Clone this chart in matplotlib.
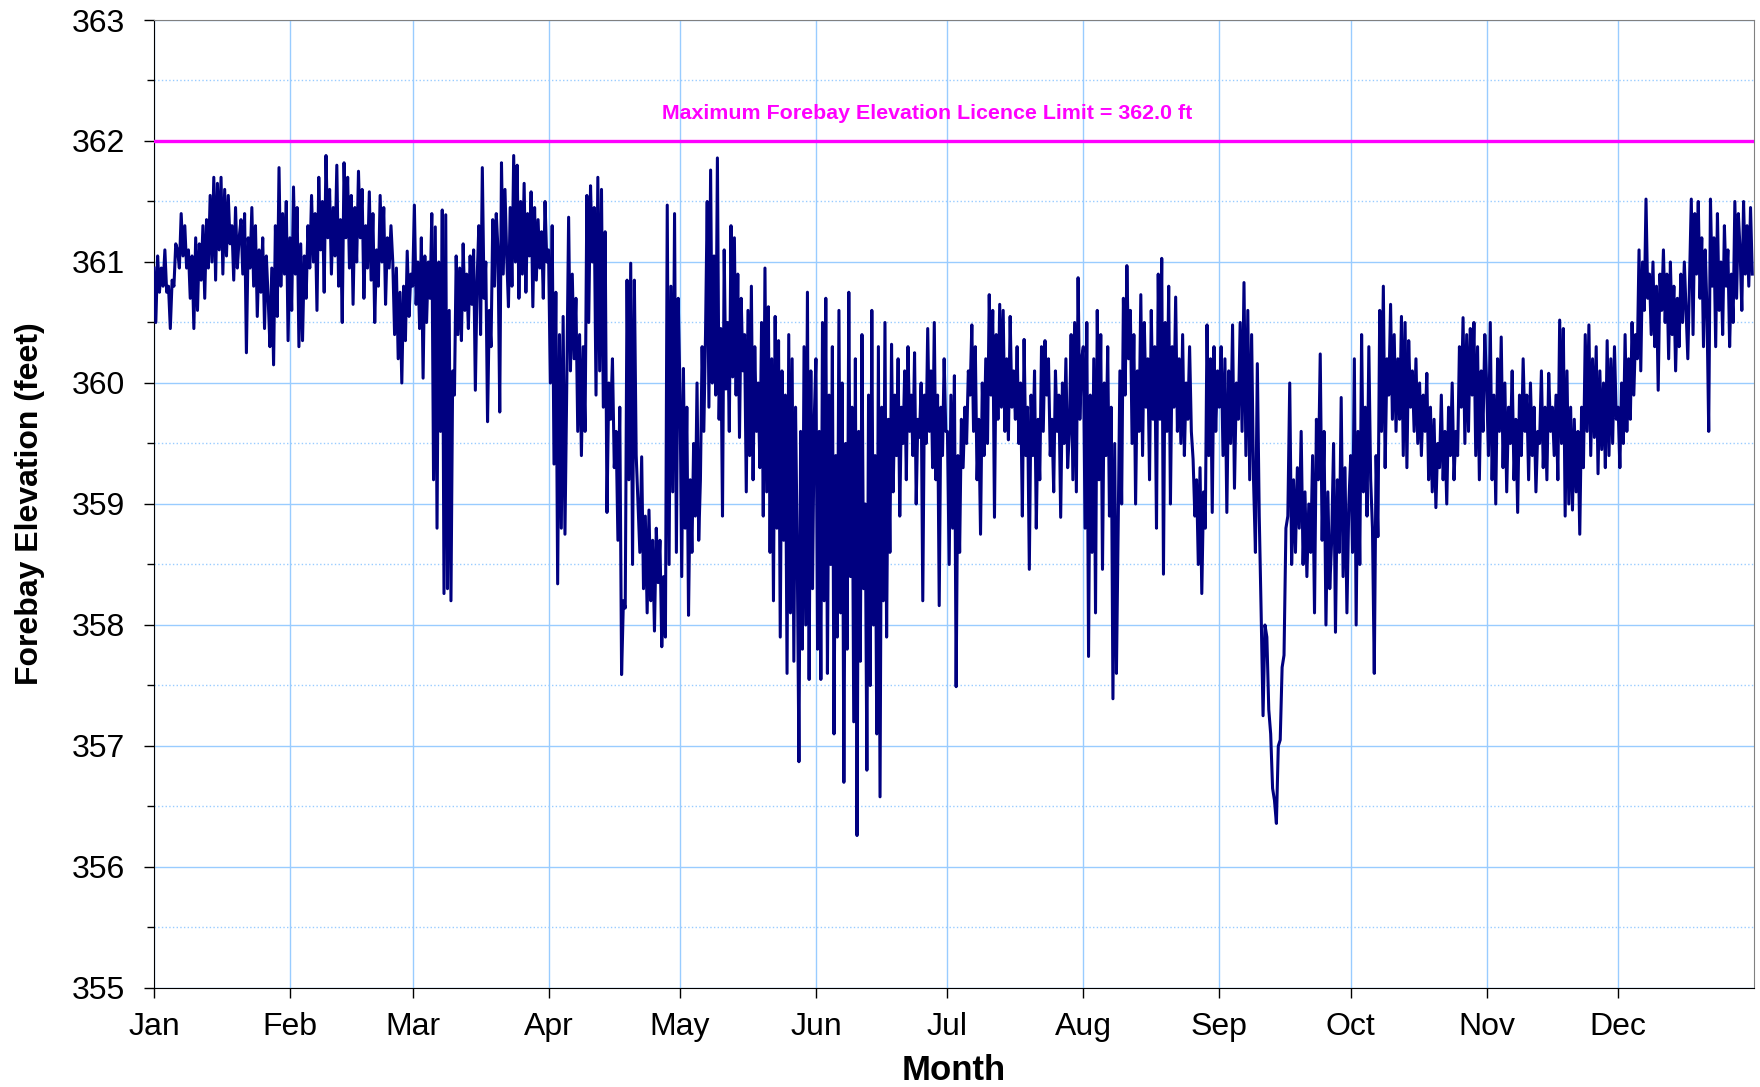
import numpy as np
import matplotlib
matplotlib.use("Agg")
import matplotlib.pyplot as plt

# Forebay elevation (feet)
months = ['Jan', 'Feb', 'Mar', 'Apr', 'May', 'Jun', 'Jul', 'Aug', 'Sep', 'Oct', 'Nov', 'Dec']
month_days = [31, 28, 31, 30, 31, 30, 31, 31, 30, 31, 30, 31]

jan = [360.95, 360.50, 361.05, 360.75, 360.95, 360.80, 361.10, 360.75, 360.80, 360.45, 360.85, 360.80,
       361.15, 361.10, 360.95, 361.40, 361.05, 361.30, 360.95, 361.10, 360.70, 361.05, 360.45, 361.20,
       360.60, 361.15, 360.85, 361.30, 360.70, 361.35, 360.95, 361.55, 361.00, 361.70, 360.85, 361.65,
       361.10, 361.70, 360.90, 361.60, 361.05, 361.55, 361.15, 361.30, 360.85, 361.45, 360.95, 361.20,
       361.35, 360.90, 361.40, 360.25, 361.20, 360.95, 361.45, 360.80, 361.30, 360.55, 361.10, 360.75,
       361.20, 360.45, 361.05, 360.70, 360.30, 360.95, 360.15, 361.30, 360.55, 361.78, 360.80, 361.40,
       360.90, 361.50, 360.35]
feb = [361.20, 360.60, 361.62, 360.90, 361.45, 360.30, 361.15, 360.35, 361.05, 360.70, 361.30, 360.95,
       361.55, 361.00, 361.40, 360.60, 361.70, 361.10, 361.50, 360.75, 361.88, 361.20, 361.60, 360.90,
       361.45, 361.05, 361.80, 360.80, 361.35, 360.50, 361.82, 361.20, 361.70, 360.95, 361.55, 360.65,
       361.45, 361.00, 361.75, 361.20, 361.60, 360.70, 361.30, 360.95, 361.58, 360.85, 361.40, 360.50,
       361.10, 360.80, 361.55, 361.00, 361.45, 360.65, 361.20, 360.95, 361.30, 361.00, 360.40, 360.95,
       360.20, 360.75, 360.00, 360.80, 360.35, 361.09, 360.55, 360.90]
mar = [360.80, 361.47, 360.65, 361.00, 360.45, 361.20, 360.04, 361.05, 360.50, 361.00, 360.70, 361.40,
       359.20, 361.29, 358.80, 361.00, 359.60, 361.43, 358.26, 361.39, 358.30, 360.60, 358.20, 360.10,
       359.90, 361.05, 360.40, 360.95, 360.35, 361.15, 360.60, 360.90, 360.45, 361.05, 360.65, 361.10,
       359.94, 360.85, 361.30, 360.40, 361.78, 360.70, 361.00, 359.68, 360.60, 360.30, 361.35, 360.80,
       361.40, 361.10, 359.76, 361.82, 360.90, 361.60, 361.05, 360.63, 361.45, 360.80, 361.88, 361.00,
       361.80, 360.70, 361.50, 360.90, 361.65, 360.75, 361.40, 361.05, 361.58, 360.63, 361.45, 360.85,
       361.35, 360.95, 361.25, 360.70, 361.50, 361.00]
apr = [361.10, 360.00, 361.30, 359.33, 360.75, 358.34, 360.40, 358.80, 360.55, 358.75, 360.00, 361.37,
       360.10, 360.90, 360.20, 360.70, 359.60, 360.40, 359.40, 360.30, 359.60, 361.55, 360.50, 361.63,
       361.00, 361.45, 359.90, 361.70, 360.10, 361.60, 359.80, 361.25, 358.93, 360.00, 359.70, 360.20,
       359.30, 359.60, 358.70, 359.80, 357.59, 358.20, 358.14, 360.85, 359.20, 360.99, 358.50, 360.85,
       359.40, 359.00, 358.60, 359.39, 358.30, 358.90, 358.10, 358.95, 358.20, 358.70, 357.95, 358.80,
       358.35, 358.70, 357.82, 358.40, 357.90, 361.47, 358.50, 360.80, 359.10, 361.40, 358.60, 360.70]
may = [359.90, 358.40, 360.12, 358.80, 359.80, 358.08, 359.20, 358.60, 359.50, 358.90, 360.00, 358.70,
       359.20, 360.30, 359.60, 360.40, 361.50, 359.80, 361.76, 360.00, 361.05, 359.90, 361.86, 359.70,
       360.45, 358.90, 361.10, 359.95, 360.50, 359.60, 361.30, 360.05, 361.20, 359.90, 360.90, 359.55,
       360.70, 360.10, 360.40, 359.10, 360.60, 359.40, 360.80, 359.20, 360.30, 359.60, 360.00, 359.30,
       360.50, 358.90, 360.95, 359.10, 360.63, 358.60, 360.20, 358.20, 360.55, 358.80, 360.35, 357.90,
       360.10, 358.70, 359.90, 357.60, 360.40, 358.10, 360.20, 357.70, 359.80, 358.60, 356.87, 359.60,
       357.80, 360.30, 358.00, 360.75, 357.55, 360.10, 358.30, 359.70]
jun = [360.20, 357.80, 359.60, 357.55, 360.50, 358.20, 360.70, 357.60, 359.90, 358.50, 360.30, 357.10,
       359.40, 357.90, 360.60, 358.10, 360.00, 356.70, 359.50, 357.80, 360.75, 358.40, 359.80, 357.20,
       360.20, 356.26, 359.60, 357.70, 360.40, 358.30, 359.00, 356.80, 359.90, 357.50, 360.60, 358.00,
       359.40, 357.10, 360.30, 356.58, 359.80, 358.20, 360.50, 357.90, 359.70, 358.60, 360.32, 359.10,
       359.90, 359.40, 360.20, 358.90, 359.80, 359.50, 360.10, 359.20, 360.30, 359.60, 359.90, 359.40,
       360.25, 359.00, 359.70, 359.55, 360.00, 358.20, 359.90, 359.50, 360.45, 359.60, 360.10, 359.30,
       360.50, 359.20, 359.90, 358.16, 359.80, 359.40, 360.20, 359.60]
jul = [359.60, 358.50, 359.90, 358.80, 360.06, 357.49, 359.40, 358.60, 359.70, 359.30, 359.80, 359.50,
       360.10, 359.90, 360.48, 359.60, 360.30, 359.20, 359.70, 358.75, 360.00, 359.40, 360.20, 359.50,
       360.73, 359.90, 360.60, 358.89, 360.40, 359.70, 360.65, 359.80, 360.60, 359.60, 360.20, 359.53,
       360.55, 359.80, 360.10, 359.70, 360.30, 359.50, 360.00, 358.90, 360.36, 359.40, 359.80, 358.46,
       359.90, 359.40, 360.10, 358.80, 359.70, 359.20, 360.30, 359.60, 360.35, 359.90, 360.20, 359.40,
       359.70, 359.10, 360.10, 359.60, 359.90, 358.89, 360.00, 359.50, 360.20, 359.30, 359.60, 360.40,
       359.20, 360.50, 359.10, 360.87, 359.70, 360.20]
aug = [360.30, 358.80, 360.50, 357.74, 359.90, 358.60, 360.20, 358.10, 360.60, 359.20, 360.40, 358.46,
       360.00, 359.40, 360.30, 358.90, 359.80, 357.39, 359.50, 357.60, 358.80, 360.10, 359.00, 360.70,
       359.90, 360.97, 360.20, 360.60, 359.50, 360.40, 359.00, 360.10, 359.60, 360.73, 359.40, 360.50,
       359.80, 360.20, 359.20, 360.60, 359.70, 360.30, 358.80, 360.90, 359.70, 361.03, 358.42, 360.50,
       359.60, 360.80, 359.00, 360.30, 359.80, 360.71, 359.60, 360.20, 359.50, 360.40, 359.40, 360.00,
       359.70, 360.30, 359.60, 359.37, 358.90, 359.20, 358.50, 359.30, 358.26, 359.10, 358.80, 360.48,
       359.40, 360.20, 358.93, 360.30, 359.60, 360.10]
sep = [359.80, 360.30, 359.40, 360.20, 358.93, 360.10, 359.50, 360.48, 359.13, 360.00, 359.70, 360.50,
       359.60, 360.83, 359.40, 360.60, 359.20, 360.40, 359.20, 358.60, 360.16, 358.90, 358.10, 357.25,
       358.00, 357.90, 357.30, 357.10, 356.65, 356.55, 356.36, 357.00, 357.05, 357.65, 357.75, 358.80,
       358.90, 360.00, 358.50, 359.20, 358.60, 359.30, 358.80, 359.60, 358.50, 359.10, 358.40, 359.00,
       358.60, 359.40, 358.10, 359.70, 359.20, 360.24, 358.70, 359.60, 358.00, 359.10, 358.30, 358.70,
       359.50, 357.94, 359.20, 358.60, 359.88, 358.40, 359.30, 358.10, 359.00]
oct_ = [359.40, 358.60, 360.20, 358.00, 359.60, 358.50, 360.40, 359.10, 359.80, 358.90, 360.30, 359.20,
        358.80, 357.60, 359.40, 358.73, 360.60, 359.60, 360.80, 359.30, 360.20, 359.90, 360.65, 359.70,
        360.40, 359.60, 360.20, 359.70, 360.55, 359.40, 360.50, 359.30, 360.35, 359.80, 360.10, 359.60,
        360.20, 359.50, 360.00, 359.40, 359.90, 359.60, 360.08, 359.20, 359.80, 359.10, 359.70, 358.97,
        359.50, 359.30, 359.90, 359.20, 359.60, 359.00, 359.80, 359.40, 360.00, 359.20, 359.60, 359.40,
        360.30, 359.80, 360.54, 359.50, 360.40, 359.60, 360.45, 359.90, 360.50, 359.40, 360.30, 359.20,
        360.10, 359.60, 360.40]
nov = [360.00, 359.40, 360.50, 359.20, 359.90, 359.00, 360.20, 359.60, 360.38, 359.30, 360.00, 359.10,
       359.80, 359.50, 360.10, 359.20, 359.70, 358.93, 359.90, 359.40, 360.20, 359.60, 359.90, 359.20,
       360.00, 359.40, 359.80, 359.10, 359.60, 359.50, 360.10, 359.30, 359.80, 359.20, 360.08, 359.60,
       359.80, 359.40, 359.90, 359.20, 360.52, 359.50, 360.45, 358.90, 360.10, 359.00, 359.80, 358.95,
       359.70, 359.10, 359.60, 358.75, 359.80, 359.30, 360.40, 359.60, 360.48, 359.40, 360.20, 359.55,
       360.30, 359.25, 360.10, 359.45, 360.00, 359.30, 360.35, 359.40, 360.20, 359.50, 360.30, 359.70]
dec = [359.80, 359.30, 360.00, 359.50, 360.40, 359.60, 360.20, 359.70, 360.50, 359.90, 360.40, 360.20,
       361.10, 360.10, 361.00, 360.60, 361.52, 360.70, 360.90, 360.40, 361.00, 360.30, 360.80, 359.94,
       360.90, 360.60, 361.10, 360.50, 360.90, 360.20, 361.00, 360.40, 360.80, 360.10, 360.70, 360.30,
       360.90, 360.50, 361.00, 360.60, 360.20, 360.85, 361.52, 360.40, 361.40, 360.90, 361.50, 360.70,
       361.20, 360.30, 361.10, 360.60, 359.60, 361.52, 360.80, 361.20, 360.30, 361.40, 360.60, 361.00,
       360.40, 361.30, 360.80, 361.10, 360.30, 360.90, 360.50, 361.50, 360.70, 361.40, 361.10, 360.60,
       361.50, 360.90, 361.30, 360.80, 361.45, 360.90]

licence_limit = 362.0

monthly = [jan, feb, mar, apr, may, jun, jul, aug, sep, oct_, nov, dec]
month_start = np.concatenate([[0], np.cumsum(month_days)[:-1]])

# readings are spread evenly through each month (day of year)
t = np.concatenate([np.linspace(s, s + d, len(v), endpoint=False)
                    for s, d, v in zip(month_start, month_days, monthly)])
elev = np.concatenate([np.array(v) for v in monthly])

narrow = ['Liberation Sans Narrow', 'Liberation Sans', 'DejaVu Sans']
plt.rcParams['font.family'] = narrow

fig = plt.figure(figsize=(17.6, 10.87), dpi=100)
ax = fig.add_axes([0.0875, 0.0911, 0.9091, 0.8905])

ax.plot(t, elev, color='#000080', lw=2.2, solid_joinstyle='round', zorder=3)
ax.axhline(licence_limit, color='#FF00FF', lw=2.4, zorder=4)
ax.text(176.3, 362.23, 'Maximum Forebay Elevation Licence Limit = 362.0 ft',
        color='#FF00FF', fontsize=15.4, fontweight='bold', ha='center', va='center')

ax.set_xlim(0, 365)
ax.set_ylim(355, 363)
ax.set_xticks(month_start)
ax.set_xticklabels(months)
ax.set_yticks(np.arange(355, 364, 1))
ax.set_yticks(np.arange(355.5, 363, 1), minor=True)

ax.set_axisbelow(True)
ax.grid(which='major', color='#99CCFF', lw=1.0)
ax.grid(which='minor', axis='y', color='#99CCFF', lw=1.0, ls=':')

ax.tick_params(axis='both', which='major', labelsize=23, direction='out', length=7, width=1)
ax.tick_params(axis='y', which='minor', direction='out', length=5, width=1)
ax.tick_params(axis='y', pad=14)
ax.tick_params(axis='x', pad=10)

for side in ['top', 'right']:
    ax.spines[side].set_color('#808080')
for side in ['left', 'bottom']:
    ax.spines[side].set_color('black')

ax.set_xlabel('Month', fontsize=25, fontweight='bold', labelpad=9)
ax.set_ylabel('Forebay Elevation (feet)', fontsize=23, fontweight='bold',
              family=['Liberation Sans', 'DejaVu Sans'], labelpad=19)

fig.savefig('out.png', dpi=100)
